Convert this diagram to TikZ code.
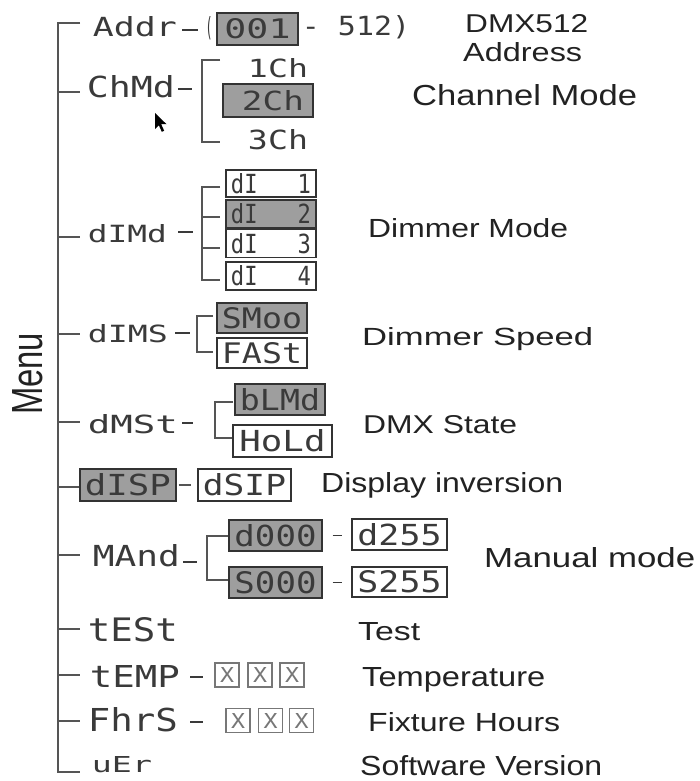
\documentclass[tikz,border=0pt]{standalone}
\usepackage{fontspec}
\setmainfont{Liberation Sans}
\newfontfamily\lcdfont{DejaVu Sans Mono}
\newfontfamily\labfont{Liberation Sans}
\usetikzlibrary{calc}
\definecolor{linec}{HTML}{555555}
\definecolor{lcdc}{HTML}{3A3A3A}
\definecolor{labc}{HTML}{222222}
\definecolor{boxc}{HTML}{333333}
\definecolor{boxfill}{HTML}{9E9E9E}
\definecolor{xc}{HTML}{777777}
\newcommand{\lc}[3]{\resizebox{#1pt}{#2pt}{\lcdfont #3}}
\newcommand{\lb}[3]{\resizebox{#1pt}{#2pt}{\labfont #3}}
\begin{document}
\begin{tikzpicture}[x=1pt,y=-1pt,
  lcd/.style={inner sep=0pt, text=lcdc},
  lcdbox/.style={draw=boxc, line width=1.2pt, inner sep=0pt, text=lcdc, fill=white},
  gbox/.style={lcdbox, fill=boxfill},
  xbox/.style={draw=xc, line width=1.3pt, inner sep=0pt, minimum width=24pt, minimum height=24pt, text=xc},
  lbl/.style={inner sep=0pt, anchor=base west, text=labc},
  tree/.style={draw=linec, line width=1.1pt},
  dashln/.style={draw=lcdc, line width=1.1pt}]
\useasboundingbox (0,0) rectangle (699,781);

% ---- spine ----
\coordinate (top) at (58,23);
\coordinate (bot) at (58,772);
\draw[tree] (80,23) -- (top) -- (bot) -- (80,772);
\foreach \yy in {92,237,334,422,487,555,629,675,721}
  \draw[tree] (58,\yy) -- (80,\yy);

% ---- Menu ----
\node[inner sep=0pt, anchor=base west, rotate=90, text=labc] (menu) at (42,415) {\lb{82}{30}{Menu}};

% ---- Addr ----
\node[lcd] (addr) at (135,27) {\lc{84}{20}{Addr}};
\draw[dashln] (182,30) -- (198,30);
\node[lcd] (lpar) at (209,28) {\lc{7}{20}{(}};
\node[gbox, minimum width=81pt, minimum height=32pt] (a001) at (257.5,29) {\lc{66}{20}{001}};
\node[lcd] (a512) at (356,27) {\lc{108}{20}{-~512)}};
\node[lbl] (tdmx) at (465,33) {\lb{123}{18}{DMX512}};
\node[lbl] (taddr) at (463,62) {\lb{119}{19}{Address}};

% ---- ChMd ----
\node[lcd] (chmd) at (131,87) {\lc{88}{22}{ChMd}};
\draw[dashln] (178,89) -- (192,89);
\coordinate (cb1) at (202,60);
\coordinate (cb2) at (202,142);
\draw[tree] (220,60) -- (cb1) -- (cb2) -- (220,142);
\node[lcd] (c1) at (278,68) {\lc{60}{19}{1Ch}};
\node[gbox, minimum width=90pt, minimum height=33pt] (c2) at (268,100.5) {\hspace*{10pt}\lc{62}{20}{2Ch}};
\node[lcd] (c3) at (278,140) {\lc{60}{20}{3Ch}};
\node[lbl] (tch) at (412,106) {\lb{225}{21}{Channel Mode}};
% cursor
\fill[black] (155,113) -- (155,129) -- (158.8,125.2) -- (161.8,131.8) -- (164.2,130.8) -- (161.2,124.2) -- (166.5,124.2) -- cycle;

% ---- dIMd ----
\node[lcd] (dimd) at (127.5,234) {\lc{79}{18}{dIMd}};
\draw[dashln] (178,232) -- (193,232);
\coordinate (db1) at (202,187);
\coordinate (db2) at (202,280);
\draw[tree] (220,187) -- (db1) -- (db2) -- (220,280);
\draw[tree] (202,217) -- (220,217);
\draw[tree] (202,248) -- (220,248);
\node[lcdbox, minimum width=90pt, minimum height=27pt] (d1) at (271,183.5) {\lc{80}{20}{dI~~~1}};
\node[gbox, minimum width=90pt, minimum height=28pt] (d2) at (271,214) {\lc{80}{20}{dI~~~2}};
\node[lcdbox, minimum width=90pt, minimum height=28pt] (d3) at (271,243.5) {\lc{80}{20}{dI~~~3}};
\node[lcdbox, minimum width=90pt, minimum height=28pt] (d4) at (271,276) {\lc{80}{20}{dI~~~4}};
\node[lbl] (tdm) at (368,237) {\lb{200}{19}{Dimmer Mode}};

% ---- dIMS ----
\node[lcd] (dims) at (128,333.5) {\lc{80}{18}{dIMS}};
\draw[dashln] (175,333) -- (190,333);
\coordinate (sb1) at (197,316);
\coordinate (sb2) at (197,352);
\draw[tree] (213,316) -- (sb1) -- (sb2) -- (213,352);
\node[gbox, minimum width=90pt, minimum height=30pt] (smoo) at (262,318) {\lc{80}{21}{SMoo}};
\node[lcdbox, minimum width=90pt, minimum height=30pt] (fast) at (262,353) {\lc{80}{21}{FASt}};
\node[lbl] (tds) at (362,345) {\lb{231}{18}{Dimmer Speed}};

% ---- dMSt ----
\node[lcd] (dmst) at (133,424) {\lc{90}{19}{dMSt}};
\draw[dashln] (182,423) -- (193,423);
\coordinate (mb1) at (215,402);
\coordinate (mb2) at (215,438);
\draw[tree] (233,402) -- (mb1) -- (mb2) -- (233,438);
\node[gbox, minimum width=90pt, minimum height=31pt] (blmd) at (280,399.5) {\lc{80}{22}{bLMd}};
\node[lcdbox, minimum width=99pt, minimum height=32pt] (hold) at (282.5,441) {\lc{86}{22}{HoLd}};
\node[lbl] (tst) at (363,433) {\lb{154}{18}{DMX State}};

% ---- dISP ----
\node[gbox, minimum width=96pt, minimum height=32pt] (disp) at (128,485) {\lc{86}{22}{dISP}};
\node[lcdbox, minimum width=93pt, minimum height=32pt] (dsip) at (244.5,485) {\lc{83}{22}{dSIP}};
\draw[tree, shorten <=2pt, shorten >=6pt] (disp.east) -- (dsip.west);
\node[lbl] (tdi) at (321,492) {\lb{242}{20}{Display inversion}};

% ---- MAnd ----
\node[lcd] (mand) at (136.5,556) {\lc{87}{22}{MAnd}};
\draw[dashln] (183,562) -- (197,562);
\coordinate (nb1) at (207,536);
\coordinate (nb2) at (207,580);
\draw[tree] (229,536) -- (nb1) -- (nb2) -- (229,580);
\node[gbox, minimum width=93pt, minimum height=31pt] (d000) at (275.5,535.5) {\lc{82}{22}{d000}};
\node[gbox, minimum width=93pt, minimum height=31pt] (s000) at (275.5,582.5) {\lc{82}{22}{S000}};
\node[lcdbox, minimum width=95pt, minimum height=31pt] (d255) at (399.5,534.5) {\lc{84}{22}{d255}};
\node[lcdbox, minimum width=95pt, minimum height=30pt] (s255) at (399.5,582) {\lc{84}{22}{S255}};
\draw[dashln, shorten <=10pt, shorten >=9pt] (d000.east) -- (d000.east -| d255.west);
\draw[dashln, shorten <=10pt, shorten >=9pt] (s000.east) -- (s000.east -| s255.west);
\node[lbl] (tmm) at (484,567) {\lb{211}{20}{Manual mode}};

% ---- tESt ----
\node[lcd] (test) at (133,630) {\lc{90}{24}{tESt}};
\node[lbl] (ttest) at (358,640) {\lb{62}{18}{Test}};

% ---- tEMP ----
\node[lcd] (temp) at (135,676) {\lc{90}{22}{tEMP}};
\draw[dashln] (190,677) -- (203,677);
\node[xbox] (tx1) at (227,675) {\lc{14}{15}{X}};
\node[xbox] (tx2) at (260,675) {\lc{14}{15}{X}};
\node[xbox] (tx3) at (292,675) {\lc{14}{15}{X}};
\node[lbl] (ttemp) at (362,686) {\lb{183}{19}{Temperature}};

% ---- FhrS ----
\node[lcd] (fhrs) at (133,720) {\lc{90}{24}{FhrS}};
\draw[dashln] (190,722) -- (203,722);
\node[xbox] (fx1) at (238,720.5) {\lc{14}{15}{X}};
\node[xbox] (fx2) at (270.5,720.5) {\lc{14}{15}{X}};
\node[xbox] (fx3) at (301.5,720.5) {\lc{14}{15}{X}};
\node[lbl] (tfh) at (368,731) {\lb{192}{19}{Fixture Hours}};

% ---- uEr ----
\node[lcd] (uer) at (122,765) {\lc{60}{16}{uEr}};
\node[lbl] (tsv) at (360,775) {\lb{242}{20}{Software Version}};
\end{tikzpicture}
\end{document}
